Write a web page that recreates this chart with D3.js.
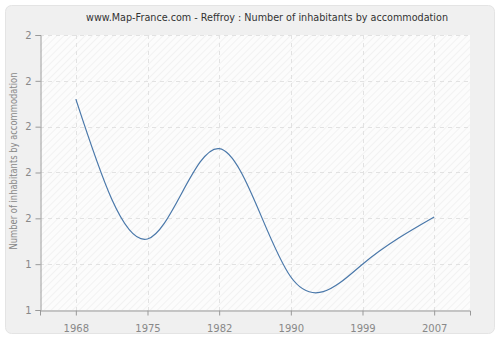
<!DOCTYPE html>
<html>
<head>
  <meta charset="UTF-8">
  <script src="https://d3js.org/d3.v7.min.js"></script>
  <style>
    body { margin: 0; background: #fff; }
    text { font-family: "DejaVu Sans", Verdana, sans-serif; }
  </style>
</head>
<body>
  <svg width="500" height="340"></svg>

  <script>
    const years = ["1968", "1975", "1982", "1990", "1999", "2007"];
    const values = [1.76, 1.455, 1.652, 1.372, 1.40, 1.503];
    const yTicks = [1.3, 1.4, 1.5, 1.6, 1.7, 1.8, 1.9];

    const svg = d3.select("svg");
    const plotL = 40, plotR = 470, plotT = 35, plotB = 310;

    // outer panel
    svg.append("rect")
      .attr("x", 5.5).attr("y", 5.5)
      .attr("width", 489).attr("height", 328)
      .attr("rx", 6)
      .attr("fill", "#f0f0f0")
      .attr("stroke", "#e4e4e4");

    const defs = svg.append("defs");
    const pat = defs.append("pattern")
      .attr("id", "hatch")
      .attr("width", 5).attr("height", 5)
      .attr("patternUnits", "userSpaceOnUse")
      .attr("patternTransform", "rotate(45)");
    pat.append("rect").attr("width", 5).attr("height", 5).attr("fill", "#fcfcfc");
    pat.append("line")
      .attr("x1", 0).attr("y1", 0).attr("x2", 0).attr("y2", 5)
      .attr("stroke", "#ececec").attr("stroke-width", 1.2);

    svg.append("rect")
      .attr("x", plotL).attr("y", plotT)
      .attr("width", plotR - plotL).attr("height", plotB - plotT)
      .attr("fill", "url(#hatch)");

    const x = d3.scalePoint().domain(years).range([plotL, plotR]).padding(0.5);
    const y = d3.scaleLinear().domain([1.3, 1.9]).range([plotB, plotT]);

    // grid
    const grid = svg.append("g")
      .attr("stroke", "#e2e2e2")
      .attr("stroke-dasharray", "4,4");
    grid.selectAll("line.h")
      .data(yTicks.slice(1))
      .join("line")
      .attr("x1", plotL).attr("x2", plotR)
      .attr("y1", d => Math.round(y(d)) + 0.5)
      .attr("y2", d => Math.round(y(d)) + 0.5);
    grid.selectAll("line.v")
      .data(years)
      .join("line")
      .attr("y1", plotT).attr("y2", plotB)
      .attr("x1", d => Math.round(x(d)) + 0.5)
      .attr("x2", d => Math.round(x(d)) + 0.5);

    // axes
    const yAxis = svg.append("g")
      .attr("transform", `translate(${plotL + 0.5},0)`)
      .call(d3.axisLeft(y).tickValues(yTicks).tickFormat(d3.format(".0f")).tickSizeOuter(0).tickSize(5));
    const xAxis = svg.append("g")
      .attr("transform", `translate(0,${plotB + 0.5})`)
      .call(d3.axisBottom(x).tickSizeOuter(0).tickSize(5));
    [yAxis, xAxis].forEach(a => {
      a.select(".domain").attr("stroke", "#999");
      a.selectAll(".tick line").attr("stroke", "#999");
      a.selectAll(".tick text")
        .attr("fill", "#888")
        .attr("font-size", 10)
        .style("font-family", '"DejaVu Sans", Verdana, sans-serif');
    });
    xAxis.selectAll(".tick text").attr("dy", "1.3em");
    yAxis.selectAll(".tick text").attr("x", -9);

    // line
    const line = d3.line()
      .x((d, i) => x(years[i]))
      .y(d => y(d))
      .curve(d3.curveNatural);
    svg.append("path")
      .datum(values)
      .attr("d", line)
      .attr("fill", "none")
      .attr("stroke", "#4a78aa")
      .attr("stroke-width", 1.2);

    // title
    svg.append("text")
      .attr("x", 267).attr("y", 21)
      .attr("text-anchor", "middle")
      .attr("font-size", 10.5)
      .attr("textLength", 362)
      .attr("lengthAdjust", "spacingAndGlyphs")
      .attr("fill", "#333")
      .text("www.Map-France.com - Reffroy : Number of inhabitants by accommodation");

    svg.append("text")
      .attr("transform", "translate(17,161) rotate(-90)")
      .attr("text-anchor", "middle")
      .attr("font-size", 10)
      .attr("textLength", 177)
      .attr("lengthAdjust", "spacingAndGlyphs")
      .attr("fill", "#888")
      .text("Number of inhabitants by accommodation");
  </script>
</body>
</html>
